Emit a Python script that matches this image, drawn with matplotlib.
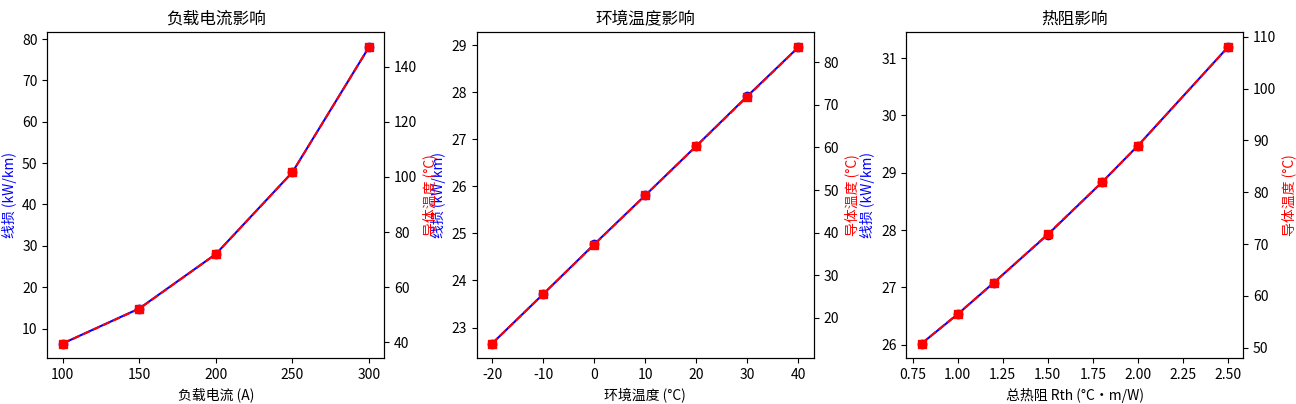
import matplotlib
matplotlib.use("Agg")
import matplotlib.pyplot as plt

plt.rcParams["font.family"] = ["Noto Sans CJK SC", "DejaVu Sans"]
plt.rcParams["axes.unicode_minus"] = False

# 负载电流影响
current = [100, 150, 200, 250, 300]
loss_current = [6.37, 14.84, 28.0, 47.8, 78.06]
temp_current = [39.6, 52.2, 72.0, 101.7, 147.1]

# 环境温度影响
ambient = [-20, -10, 0, 10, 20, 30, 40]
loss_ambient = [22.66, 23.71, 24.77, 25.81, 26.86, 27.92, 28.96]
temp_ambient = [14.0, 25.6, 37.2, 48.75, 60.3, 71.9, 83.5]

# 热阻影响
rth = [0.8, 1.0, 1.2, 1.5, 1.8, 2.0, 2.5]
loss_rth = [26.02, 26.53, 27.08, 27.92, 28.83, 29.47, 31.19]
temp_rth = [50.8, 56.5, 62.5, 71.9, 81.9, 88.95, 108.0]

panels = [
    ("负载电流影响", "负载电流 (A)", current, loss_current, temp_current),
    ("环境温度影响", "环境温度 (°C)", ambient, loss_ambient, temp_ambient),
    ("热阻影响", "总热阻 Rth (°C·m/W)", rth, loss_rth, temp_rth),
]

fig, axes = plt.subplots(1, 3, figsize=(12.96, 4.04), dpi=100)
fig.subplots_adjust(left=0.0365, right=0.9593, top=0.920, bottom=0.113, wspace=0.2745)

for ax, (title, xlabel, x, loss, temp) in zip(axes, panels):
    ax.plot(x, loss, "b-o", linewidth=1.5, markersize=6)
    ax.set_xlabel(xlabel)
    ax.set_ylabel("线损 (kW/km)", color="blue")
    ax.set_title(title)
    ax2 = ax.twinx()
    ax2.plot(x, temp, "r--s", linewidth=1.5, markersize=6)
    ax2.set_ylabel("导体温度 (°C)", color="red")

fig.savefig("out.png", dpi=100)
